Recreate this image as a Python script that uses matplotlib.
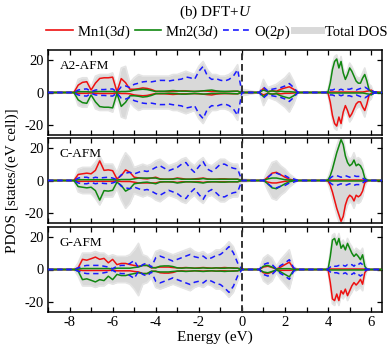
import matplotlib
matplotlib.use("Agg")
import matplotlib.pyplot as plt
from matplotlib.lines import Line2D
from matplotlib.ticker import MultipleLocator
import numpy as np

plt.rcParams['font.family'] = ['Liberation Serif', 'DejaVu Serif']
plt.rcParams['mathtext.fontset'] = 'custom'
plt.rcParams['mathtext.rm'] = 'Liberation Serif'
plt.rcParams['mathtext.it'] = 'Liberation Serif:italic'
plt.rcParams['axes.unicode_minus'] = False

# ---------------- data ----------------
energy_val = [-7.8, -7.6, -7.4, -7.2, -7.0, -6.8, -6.6, -6.4, -6.2, -6.0,
              -5.8, -5.6, -5.4, -5.2, -5.0, -4.8, -4.6, -4.4, -4.2, -4.0,
              -3.8, -3.6, -3.4, -3.2, -3.0, -2.8, -2.6, -2.4, -2.2, -2.0,
              -1.8, -1.6, -1.4, -1.2, -1.0, -0.8, -0.6, -0.4, -0.2, 0.0]
energy_gap = [0.8, 1.0, 1.2, 1.4, 1.6, 1.8, 2.0, 2.2, 2.4, 2.6]
energy_cond = [3.9, 4.0, 4.1, 4.2, 4.3, 4.4, 4.5, 4.6, 4.7, 4.8, 4.9, 5.0,
               5.1, 5.2, 5.3, 5.4, 5.5, 5.6, 5.7, 5.8, 5.9, 6.0, 6.1]
energy = [-9.0] + energy_val + energy_gap + energy_cond + [6.5]

panel_names = ["A2-AFM", "C-AFM", "G-AFM"]

# Mn1 spin-up (Mn2 spin-down is its mirror), Mn1 spin-down, O(2p), Total DOS
a2_mn_up = ([0] +
            [0, 4.5, 6.2, 6.6, 1.5, 5.7, 8.6, 9.0, 9.0, 9.4, 0.5, 8.5, 6.0, 2.0, 2.0, 2.3, 2.8, 2.5, 1.8, 0.8,
             0.6, 0.6, 0.5, 0.6, 0.7, 1.0, 1.0, 0.8, 0.6, 0.7, 1.0, 0.8, 0.6, 0.6, 0.5, 0.5, 0.6, 0.7, 0.8, 0] +
            [0, 2.5, 0.5, 1.0, 0.8, 2.0, 2.8, 3.5, 2.0, 0] +
            [0, 0.2, 0.3, 0.3, 0.3, 0.3, 0.3, 0.3, 0.3, 0.3, 0.3, 0.3, 0.3, 0.3, 0.3, 0.3, 0.3, 0.3, 0.5, 0.8, 1.0, 1.5, 0.5] +
            [0])
a2_mn_dn = ([0] +
            [0, 0.5, 0.5, 0.5, 0.3, 0.5, 0.6, 0.6, 0.6, 0.6, 0.3, 0.6, 0.6, 0.8, 1.5, 1.8, 2.0, 1.8, 1.2, 0.6,
             0.8, 0.8, 1.0, 1.2, 1.0, 0.8, 0.8, 0.7, 0.7, 0.8, 1.0, 1.3, 1.5, 1.0, 0.8, 0.7, 0.7, 0.8, 0.8, 0] +
            [0, 1.5, 0.5, 1.0, 0.5, 0.8, 0.5, 0.5, 0.3, 0] +
            [0, 0.5, 6, 14, 19, 20.5, 15, 19, 12, 8, 11, 15, 13, 10, 7, 5.7, 5.7, 8.8, 11, 7, 1.6, 0.5, 0] +
            [0])
a2_o = ([0] +
        [0, 1.5, 2.0, 2.2, 0.5, 1.5, 1.8, 1.8, 2.0, 2.2, 0.3, 3.5, 4.0, 3.0, 5.0, 5.7, 6.5, 6.8, 6.5, 7.0,
         7.4, 7.4, 7.0, 7.5, 7.8, 8.2, 9.5, 9.0, 8.0, 13, 16, 10, 8, 8.5, 7.5, 7.0, 8.0, 10, 14, 0] +
        [0, 3.3, 1.0, 2.0, 2.5, 3.0, 4.0, 5.5, 3.0, 0] +
        [0, 0.5, 1.5, 1.5, 2, 2, 1.5, 2, 1.5, 1.5, 2, 2, 2.5, 2, 1.5, 2, 2.5, 3, 3.3, 2.5, 1.5, 2.0, 0.5] +
        [0])
a2_tot = ([0] +
          [0, 8, 9, 9, 3, 10, 11, 11, 11, 12, 3, 15, 16, 6, 9, 11, 10, 10, 10, 10,
           10, 10, 10, 11, 11, 12, 13, 12, 11, 16, 19, 14, 11, 11, 10, 10, 11, 13, 17, 2] +
          [0, 8, 3, 4, 5, 7, 9, 12, 7, 0] +
          [0, 2, 9, 17, 22, 23, 18, 22, 15, 11, 14, 18, 16, 13, 10, 9, 9, 12, 15, 10, 5, 4, 0] +
          [0])

c_mn_up = ([0] +
           [0, 3.7, 4.1, 4.5, 4.1, 6.2, 12, 6.2, 6.5, 6.0, 1.0, 3.0, 6.5, 5.0, 2.0, 1.6, 1.2, 1.0, 1.5, 2.0,
            1.0, 0.8, 0.8, 1.0, 1.5, 1.2, 0.8, 0.8, 1.0, 1.2, 1.5, 1.0, 0.8, 0.8, 1.0, 1.0, 0.8, 0.8, 0.8, 0] +
           [0, 0, 2, 4.5, 5, 3.5, 2, 0.8, 0.2, 0] +
           [0, 0.2, 0.3, 0.3, 0.3, 0.3, 0.3, 0.3, 0.3, 0.3, 0.3, 0.3, 0.3, 0.3, 0.3, 0.3, 0.3, 0.3, 0.2, 0.1, 0, 0, 0] +
           [0])
c_mn_dn = ([0] +
           [0, 0.5, 0.5, 0.5, 0.5, 0.5, 0.5, 0.5, 0.5, 0.5, 0.3, 0.6, 0.6, 0.6, 1.0, 1.5, 1.5, 1.5, 1.5, 1.5,
            0.8, 0.8, 0.8, 0.8, 1.2, 0.8, 0.8, 0.8, 0.8, 0.8, 1.2, 0.8, 0.8, 0.8, 0.8, 0.8, 0.8, 0.8, 0.8, 0] +
           [0, 0, 1, 1.5, 1.5, 1.0, 0.5, 0.3, 0.1, 0] +
           [0, 0.5, 3, 7, 12, 17, 21, 25, 22, 15, 11, 9, 10, 12.5, 9, 10, 9, 6.5, 1.5, 0.3, 0, 0, 0] +
           [0])
c_o = ([0] +
       [0, 1.5, 2.0, 2.0, 1.2, 2.0, 1.5, 1.8, 2.0, 1.5, 0.5, 3.5, 4.5, 5.0, 4.0, 5.0, 6.0, 5.5, 6.5, 8.0,
        9.0, 7.5, 6.0, 7.0, 8.0, 10, 11, 7.5, 5.0, 8.5, 11.5, 7.0, 5.5, 7.5, 10, 10, 8.5, 7.5, 7.0, 0] +
       [0, 0, 2, 4, 4.5, 3.5, 3, 1.5, 1.0, 0] +
       [0, 0.3, 1.5, 2.5, 2.5, 3, 2.5, 2, 2.5, 3, 2.5, 2, 2.5, 3, 2.5, 2.5, 2.5, 1.5, 0.5, 0.2, 0, 0, 0] +
       [0])
c_tot = ([0] +
         [0, 7, 8, 8, 8, 11, 15, 10, 10, 10, 5, 12, 17, 14, 8, 9, 10, 9, 10, 12,
          13, 11, 9, 10, 11, 13, 14, 11, 9, 12, 14, 10, 9, 11, 13, 13, 11, 10, 10, 1] +
         [0, 0, 6, 11, 12, 9, 7, 4, 2, 0] +
         [0, 2, 6, 11, 16, 21, 25, 28, 26, 19, 15, 13, 14, 17, 13, 14, 13, 10, 4, 1, 0, 0, 0] +
         [0])

g_mn_up = ([0] +
           [0, 1.0, 6.2, 5.7, 6.6, 7.6, 6.2, 6.8, 4.1, 6.2, 3.0, 3.7, 3.7, 3.0, 2.5, 2.0, 2.5, 2.5, 1.0, 1.2,
            1.5, 1.5, 1.5, 1.2, 1.0, 1.0, 1.2, 1.0, 0.8, 1.0, 1.2, 1.0, 0.8, 1.0, 1.0, 1.2, 1.0, 1.0, 0.8, 0] +
           [0, 1.5, 2.0, 1.2, 0.3, 1.5, 3.0, 4.5, 0.5, 0] +
           [0, 0.2, 0.3, 0.3, 0.3, 0.3, 0.3, 0.3, 0.3, 0.3, 0.3, 0.3, 0.3, 0.3, 0.3, 0.3, 0.3, 0.3, 0.2, 0.1, 0, 0, 0] +
           [0])
g_mn_dn = ([0] +
           [0, 0.3, 0.6, 0.6, 0.6, 0.6, 0.6, 0.6, 0.6, 0.4, 0.8, 0.8, 0.8, 0.8, 1.2, 1.5, 2.5, 2.5, 1.2, 1.0,
            2.0, 2.2, 2.2, 1.8, 1.0, 0.8, 1.0, 1.0, 0.8, 0.8, 1.0, 0.8, 0.8, 1.0, 0.8, 0.8, 1.0, 0.8, 0.8, 0] +
           [0, 2.0, 2.5, 1.5, 0.3, 0.5, 0.5, 0.5, 0.2, 0] +
           [0, 0.3, 8, 18, 19, 15, 19, 13, 15, 12, 16, 13, 10, 8, 9.5, 8, 6, 9, 2, 0.2, 0, 0, 0] +
           [0])
g_o = ([0] +
       [0, 1.0, 2.0, 2.5, 2.5, 2.5, 2.5, 2.0, 1.5, 0.5, 2.0, 2.5, 2.5, 3.7, 5.5, 1.0, 3.0, 4.0, 1.5, 7.2,
        8.2, 7.2, 6.2, 5.1, 6.2, 7.2, 8.2, 9.2, 7.8, 7.2, 8.2, 6.2, 7.2, 8.6, 9.2, 11.3, 14, 10.3, 4.0, 0] +
       [0, 3.0, 4.0, 3.0, 0.3, 2.5, 4.0, 6.0, 1.0, 0] +
       [0, 0.3, 1.5, 2.5, 2, 2, 2.5, 2, 2.5, 2, 3, 2.5, 3, 2, 3.5, 3, 4, 3, 1, 0.2, 0, 0, 0] +
       [0])
g_tot = ([0] +
         [0, 4, 10, 10, 10, 11, 10, 10, 8, 9, 8, 8, 8, 9, 12, 16, 9, 8, 5, 11,
          12, 11, 10, 9, 10, 11, 12, 13, 11, 10, 11, 9, 10, 12, 12, 14, 17, 14, 7, 0] +
         [0, 7, 9, 7, 2, 6, 9, 12, 2, 0] +
         [0, 2, 11, 21, 22, 18, 22, 16, 18, 15, 19, 16, 14, 11, 13, 12, 11, 13, 5, 1, 0, 0, 0] +
         [0])

x_ticks = [-8, -6, -4, -2, 0, 2, 4, 6]
y_ticks = [-20, 0, 20]

# ---------------- plot ----------------
RED = '#ee1111'
GREEN = '#118811'
BLUE = '#1a1aff'
GRAY = '#d9d9d9'

fig = plt.figure(figsize=(3.90, 3.49), dpi=100)
W = 390.0
H = 349.0
left = 48 / W
width = (382 - 48) / W
panel_px = [(50, 135), (138, 223), (227, 312)]

datasets = [(a2_mn_up, a2_mn_dn, a2_o, a2_tot),
            (c_mn_up, c_mn_dn, c_o, c_tot),
            (g_mn_up, g_mn_dn, g_o, g_tot)]

E = np.array(energy)
axes = []
for i, ((top, bot), name, (mu, md, o, t)) in enumerate(zip(panel_px, panel_names, datasets)):
    ax = fig.add_axes([left, 1 - bot / H, width, (bot - top) / H])
    axes.append(ax)
    mu = np.array(mu); md = np.array(md); o = np.array(o); t = np.array(t)
    ax.fill_between(E, -t, t, color=GRAY, lw=0, zorder=1)
    ax.plot(E, t, color='#e4e4e4', lw=1.2, zorder=1)
    ax.plot(E, -t, color='#e4e4e4', lw=1.2, zorder=1)
    ax.plot(E, mu, color=RED, lw=1.1, zorder=2)
    ax.plot(E, -md, color=RED, lw=1.1, zorder=2)
    ax.plot(E, md, color=GREEN, lw=1.1, zorder=3)
    ax.plot(E, -mu, color=GREEN, lw=1.1, zorder=3)
    ax.plot(E, o, color=BLUE, lw=1.1, ls=(0, (3.5, 2.5)), zorder=4)
    ax.plot(E, -o, color=BLUE, lw=1.1, ls=(0, (3.5, 2.5)), zorder=4)
    ax.axvline(0, color='#333333', lw=1.4, ls=(0, (3.5, 2)), zorder=5)
    ax.set_xlim(-9, 6.5)
    ax.set_ylim(-26, 26)
    ax.set_yticks(y_ticks)
    ax.set_xticks(x_ticks)
    ax.xaxis.set_minor_locator(MultipleLocator(1))
    ax.tick_params(which='both', direction='in', top=True, right=True,
                   length=3.5, width=0.9, labelsize=10.5, pad=3)
    for s in ax.spines.values():
        s.set_linewidth(1.1)
    ax.text(0.035, 0.88, name, transform=ax.transAxes, fontsize=9.5,
            va='top', ha='left')
    if i < 2:
        ax.tick_params(labelbottom=False)

fig.text(12 / W, 1 - 181 / H, 'PDOS [states/(eV cell)]', rotation=90,
         ha='center', va='center', fontsize=11)
fig.text(215 / W, 1 - 337 / H, 'Energy (eV)', ha='center', va='center', fontsize=11)
fig.text(215 / W, 1 - 12 / H, '(b) DFT+$U$', ha='center', va='center', fontsize=11)

handles = [Line2D([], [], color=RED, lw=1.2),
           Line2D([], [], color=GREEN, lw=1.2),
           Line2D([], [], color=BLUE, lw=1.2, ls=(0, (3.5, 2.5))),
           Line2D([], [], color=GRAY, lw=5)]
labels = ['Mn1(3$d$)', 'Mn2(3$d$)', 'O(2$p$)', 'Total DOS']
fig.legend(handles, labels, loc='center', bbox_to_anchor=(217 / W, 1 - 32 / H),
           ncol=4, frameon=False, fontsize=10.5, handlelength=1.8,
           handletextpad=0.3, columnspacing=0.3, borderpad=0)

fig.savefig('out.png', dpi=100)
